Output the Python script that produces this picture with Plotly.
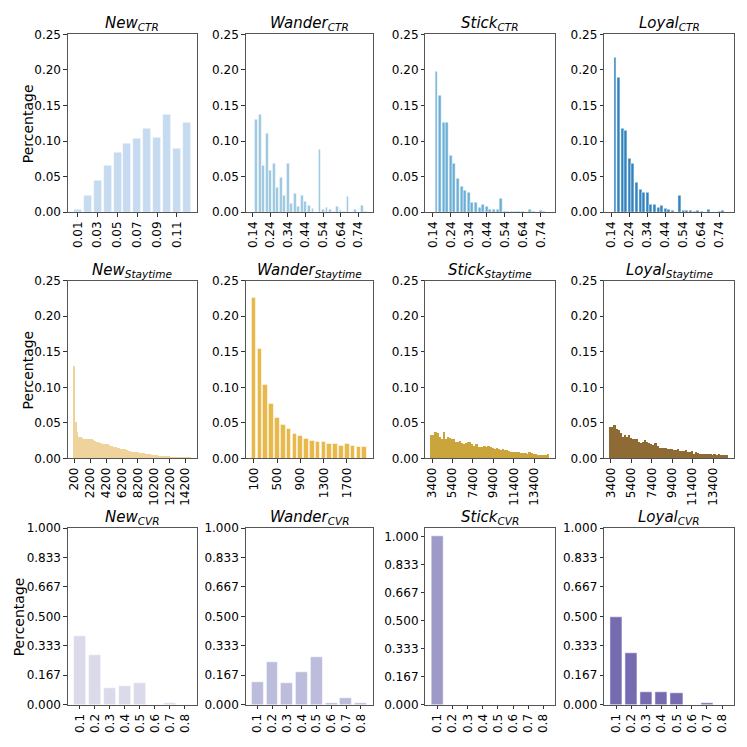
import plotly.graph_objects as go

# ---------------- data ----------------
ctr_new_bins = [0.01, 0.02, 0.03, 0.04, 0.05, 0.06, 0.07, 0.08, 0.09, 0.10, 0.11, 0.12]
ctr_new = [0.004, 0.024, 0.044, 0.065, 0.084, 0.097, 0.103, 0.118, 0.105, 0.138, 0.090, 0.126]
ctr_new_ticks = [0.01, 0.03, 0.05, 0.07, 0.09, 0.11]

ctr_bins = [0.14, 0.16, 0.18, 0.20, 0.22, 0.24, 0.26, 0.28, 0.30, 0.32, 0.34,
            0.36, 0.38, 0.40, 0.42, 0.44, 0.46, 0.48, 0.50, 0.52, 0.54, 0.56,
            0.58, 0.60, 0.62, 0.64, 0.66, 0.68, 0.70, 0.72, 0.74, 0.76, 0.78]
ctr_ticks = [0.14, 0.24, 0.34, 0.44, 0.54, 0.64, 0.74]
ctr_wander = [0.000, 0.131, 0.137, 0.065, 0.110, 0.059, 0.068, 0.035, 0.049, 0.024, 0.068,
              0.012, 0.026, 0.008, 0.024, 0.015, 0.010, 0.005, 0.000, 0.088, 0.003, 0.007,
              0.004, 0.001, 0.008, 0.002, 0.001, 0.022, 0.000, 0.003, 0.000, 0.010, 0.001]
ctr_stick = [0.000, 0.198, 0.164, 0.126, 0.126, 0.079, 0.068, 0.047, 0.036, 0.031, 0.027,
             0.014, 0.014, 0.007, 0.011, 0.008, 0.004, 0.003, 0.003, 0.019, 0.001, 0.001,
             0.001, 0.001, 0.001, 0.001, 0.000, 0.004, 0.001, 0.000, 0.002, 0.001, 0.000]
ctr_loyal = [0.000, 0.217, 0.190, 0.118, 0.115, 0.075, 0.068, 0.042, 0.032, 0.028, 0.027,
             0.011, 0.011, 0.006, 0.009, 0.005, 0.003, 0.002, 0.000, 0.023, 0.002, 0.002,
             0.002, 0.001, 0.002, 0.001, 0.000, 0.004, 0.000, 0.000, 0.001, 0.002, 0.000]

stay_new_bins = list(range(200, 15000, 200))
stay_new_ticks = [200, 2200, 4200, 6200, 8200, 10200, 12200, 14200]
stay_new = [0.130, 0.052, 0.038, 0.031, 0.030, 0.029, 0.028, 0.027, 0.028, 0.027,
            0.028, 0.027, 0.026, 0.025, 0.024, 0.023, 0.022, 0.022, 0.021, 0.021,
            0.020, 0.020, 0.019, 0.018, 0.018, 0.017, 0.016, 0.015, 0.015, 0.014,
            0.013, 0.013, 0.013, 0.012, 0.011, 0.011, 0.010, 0.010, 0.0095, 0.009,
            0.0088, 0.0085, 0.008, 0.0075, 0.0072, 0.007, 0.0065, 0.006, 0.0058, 0.0055,
            0.005, 0.0048, 0.0045, 0.0042, 0.004, 0.0038, 0.0036, 0.0034, 0.0032, 0.003,
            0.003, 0.0028, 0.0027, 0.0026, 0.0025, 0.0024, 0.0023, 0.0022, 0.0022, 0.0021,
            0.002, 0.002, 0.002, 0.002]

stay_wander_bins = list(range(100, 2100, 100))
stay_wander_ticks = [100, 500, 900, 1300, 1700]
stay_wander = [0.226, 0.154, 0.103, 0.077, 0.057, 0.048, 0.041, 0.035, 0.032, 0.028,
               0.025, 0.023, 0.024, 0.020, 0.021, 0.018, 0.020, 0.018, 0.017, 0.017]

stay_long_bins = list(range(3400, 15000, 200))
stay_long_ticks = [3400, 5400, 7400, 9400, 11400, 13400]
stay_stick = [0.033, 0.033, 0.037, 0.036, 0.031, 0.028, 0.037, 0.028, 0.030, 0.029,
              0.028, 0.027, 0.024, 0.024, 0.0245, 0.022, 0.021, 0.022, 0.024, 0.023,
              0.020, 0.018, 0.020, 0.017, 0.016, 0.017, 0.018, 0.017, 0.018, 0.016,
              0.015, 0.014, 0.015, 0.013, 0.0115, 0.013, 0.0115, 0.0115, 0.0105, 0.009,
              0.010, 0.009, 0.010, 0.009, 0.008, 0.008, 0.008, 0.0065, 0.0095, 0.0075,
              0.007, 0.007, 0.0055, 0.0055, 0.005, 0.005, 0.005, 0.007]
stay_loyal = [0.044, 0.045, 0.047, 0.041, 0.040, 0.036, 0.031, 0.033, 0.031, 0.033,
              0.029, 0.028, 0.028, 0.027, 0.024, 0.022, 0.024, 0.026, 0.024, 0.022,
              0.021, 0.0185, 0.022, 0.0175, 0.015, 0.015, 0.015, 0.0148, 0.014, 0.014,
              0.013, 0.0115, 0.012, 0.013, 0.0105, 0.0105, 0.011, 0.0115, 0.009, 0.009,
              0.0105, 0.007, 0.009, 0.008, 0.007, 0.007, 0.007, 0.006, 0.007, 0.006,
              0.0045, 0.006, 0.0045, 0.006, 0.0045, 0.0045, 0.0045, 0.005]

cvr_bins = [0.1, 0.2, 0.3, 0.4, 0.5, 0.6, 0.7, 0.8]
cvr_new = [0.389, 0.280, 0.096, 0.107, 0.122, 0.000, 0.009, 0.000]
cvr_wander = [0.128, 0.241, 0.120, 0.183, 0.270, 0.011, 0.039, 0.011]
cvr_stick = [1.000, 0.000, 0.000, 0.000, 0.000, 0.000, 0.000, 0.000]
cvr_loyal = [0.494, 0.291, 0.074, 0.070, 0.065, 0.000, 0.011, 0.000]

rate_yticks = [0.0, 0.05, 0.10, 0.15, 0.20, 0.25]
cvr_yticks = [0.0, 1 / 6, 2 / 6, 3 / 6, 4 / 6, 5 / 6, 1.0]

panels = [
    ("New", "CTR", ctr_new_bins, ctr_new, ctr_new_ticks, "{:.2f}", "#c6dbef", [0, 0.25]),
    ("Wander", "CTR", ctr_bins, ctr_wander, ctr_ticks, "{:.2f}", "#9ecae1", [0, 0.25]),
    ("Stick", "CTR", ctr_bins, ctr_stick, ctr_ticks, "{:.2f}", "#6baed6", [0, 0.25]),
    ("Loyal", "CTR", ctr_bins, ctr_loyal, ctr_ticks, "{:.2f}", "#3182bd", [0, 0.25]),
    ("New", "Staytime", stay_new_bins, stay_new, stay_new_ticks, "{}", "#eed49c", [0, 0.25]),
    ("Wander", "Staytime", stay_wander_bins, stay_wander, stay_wander_ticks, "{}", "#e8b84a", [0, 0.25]),
    ("Stick", "Staytime", stay_long_bins, stay_stick, stay_long_ticks, "{}", "#c9a53b", [0, 0.25]),
    ("Loyal", "Staytime", stay_long_bins, stay_loyal, stay_long_ticks, "{}", "#8e6b35", [0, 0.25]),
    ("New", "CVR", cvr_bins, cvr_new, cvr_bins, "{:.1f}", "#dadaeb", [0, 1.0]),
    ("Wander", "CVR", cvr_bins, cvr_wander, cvr_bins, "{:.1f}", "#bcbddc", [0, 1.0]),
    ("Stick", "CVR", cvr_bins, cvr_stick, cvr_bins, "{:.1f}", "#9e9ac8", [0, 1.05]),
    ("Loyal", "CVR", cvr_bins, cvr_loyal, cvr_bins, "{:.1f}", "#756bb1", [0, 1.0]),
]

# ---------------- layout ----------------
W = H = 747
col_px = [(67, 196), (245, 372), (425, 555), (604, 734)]
row_px = [(28, 209), (279, 460), (531, 711)]
FONT = "DejaVu Sans"
TICK_SIZE = 12

fig = go.Figure()
layout = dict(
    width=W, height=H, margin=dict(l=0, r=0, t=0, b=0),
    paper_bgcolor="white", plot_bgcolor="white",
    font=dict(family=FONT, size=TICK_SIZE, color="black"),
    showlegend=False, bargap=0,
)
annotations = []

for i, (name, sub, bins, vals, ticks, fmt, color, yr) in enumerate(panels):
    k = i + 1
    r, c = divmod(i, 4)
    xa = "x" if k == 1 else f"x{k}"
    ya = "y" if k == 1 else f"y{k}"
    step = bins[1] - bins[0]
    dense = len(bins) > 40
    fig.add_trace(go.Bar(
        x=bins, y=vals, width=(0.9 if dense else 0.8) * step,
        marker=dict(color=color, line=dict(color="white", width=0 if dense else 0.5)),
        xaxis=xa, yaxis=ya, hoverinfo="x+y",
    ))
    lo = bins[0] - 0.4 * step
    hi = bins[-1] + 0.4 * step
    m = 0.05 * (hi - lo)
    x0, x1 = col_px[c]
    y0, y1 = row_px[r]
    axis_common = dict(
        showline=True, mirror=True, linecolor="#555555", linewidth=1,
        ticks="outside", ticklen=3.5, tickwidth=1, tickcolor="#333333",
        showgrid=False, zeroline=False,
        tickfont=dict(family=FONT, size=TICK_SIZE, color="black"),
    )
    layout["xaxis" if k == 1 else f"xaxis{k}"] = dict(
        domain=[x0 / W, x1 / W], anchor=ya, range=[lo - m, hi + m],
        tickmode="array", tickvals=ticks, ticktext=[fmt.format(t) for t in ticks],
        tickangle=-90, **axis_common,
    )
    yticks = cvr_yticks if r == 2 else rate_yticks
    yfmt = "{:.3f}" if r == 2 else "{:.2f}"
    layout["yaxis" if k == 1 else f"yaxis{k}"] = dict(
        domain=[1 - y1 / H, 1 - y0 / H], anchor=xa, range=yr,
        tickmode="array", tickvals=yticks, ticktext=[yfmt.format(t) for t in yticks],
        **axis_common,
    )
    annotations.append(dict(
        text=f"<i>{name}<sub>{sub}</sub></i>",
        x=(x0 + x1) / 2 / W, y=1 - y0 / H, xref="paper", yref="paper",
        xanchor="center", yanchor="bottom", showarrow=False,
        font=dict(family=FONT, size=15, color="black"), yshift=-1,
    ))

for r, xpx in zip(range(3), [27, 27, 18]):
    y0, y1 = row_px[r]
    annotations.append(dict(
        text="Percentage", textangle=-90,
        x=xpx / W, y=1 - (y0 + y1) / 2 / H, xref="paper", yref="paper",
        xanchor="center", yanchor="middle", showarrow=False,
        font=dict(family=FONT, size=14, color="black"),
    ))

layout["annotations"] = annotations
fig.update_layout(**layout)

fig.write_html("out.html", config={"displayModeBar": False})
with open("out.html", "r", encoding="utf-8") as f:
    html = f.read()
html = html.replace("<body>", '<body style="margin:0;padding:0;overflow:hidden">', 1)
with open("out.html", "w", encoding="utf-8") as f:
    f.write(html)
